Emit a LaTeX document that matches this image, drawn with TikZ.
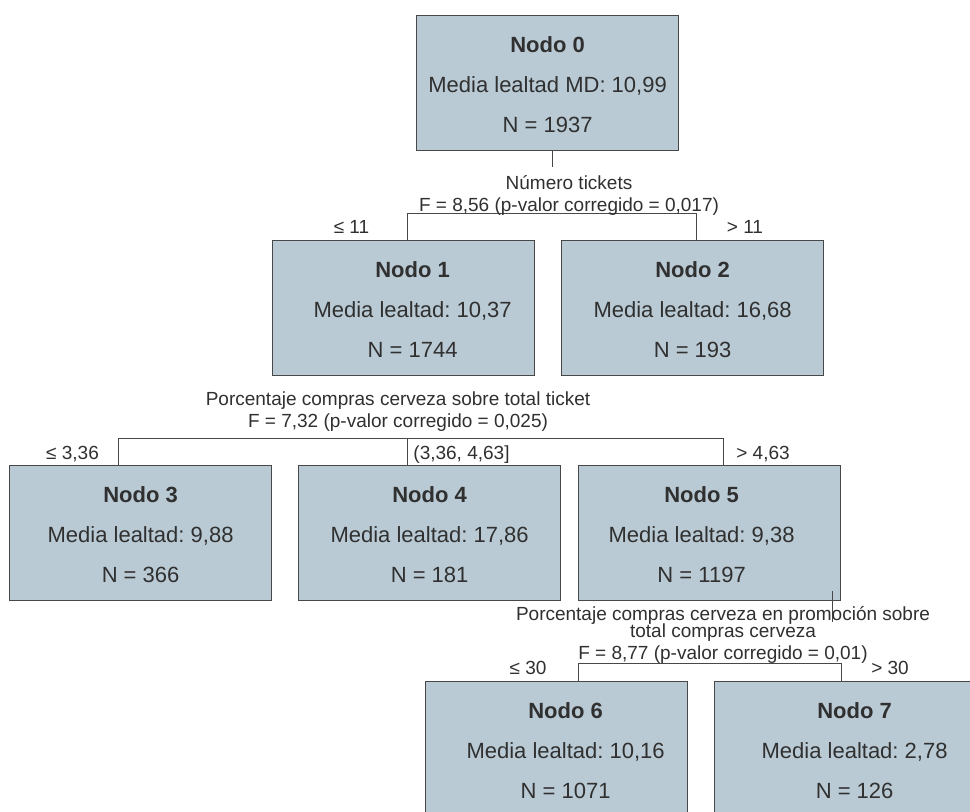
\documentclass[tikz,border=0pt]{standalone}
\usepackage{fontspec}
\setmainfont{Liberation Sans}
\usetikzlibrary{calc}
\definecolor{boxfill}{HTML}{B9CAD4}
\definecolor{boxline}{HTML}{484848}
\definecolor{txt}{HTML}{303030}
\frenchspacing
\begin{document}
\begin{tikzpicture}[x=0.75pt,y=-0.75pt,
  box/.style={draw=boxline, line width=0.9pt, fill=boxfill, minimum width=196.5pt, minimum height=101.25pt, anchor=north west, inner sep=0pt},
  ttl/.style={anchor=base, inner sep=0pt, text=txt, font=\fontsize{16.5}{19}\selectfont\bfseries},
  val/.style={anchor=base, inner sep=0pt, text=txt, font=\fontsize{16.5}{19}\selectfont},
  lab/.style={anchor=base, inner sep=0pt, text=txt, font=\fontsize{14.25}{16}\selectfont},
  conn/.style={draw=boxline, line width=0.75pt}]
\clip (0,0) rectangle (970,811);
\fill[white] (0,0) rectangle (970,811);

% boxes
\node[box] (n0) at (416,15) {};
\node[box] (n1) at (272,240) {};
\node[box] (n2) at (561,240) {};
\node[box] (n3) at (9,465) {};
\node[box] (n4) at (298,465) {};
\node[box] (n5) at (578,465) {};
\node[box] (n6) at (425,681) {};
\node[box] (n7) at (714,681) {};

% box texts
\node[ttl] (t0) at ($(n0.north)+(0,37)$) {Nodo 0};
\node[val] (m0) at ($(n0.north)+(0,77)$) {Media lealtad MD: 10,99};
\node[val] (c0) at ($(n0.north)+(0,117)$) {N = 1937};

\node[ttl] (t1) at ($(n1.north)+(9,37)$) {Nodo 1};
\node[val] (m1) at ($(n1.north)+(9,77)$) {Media lealtad: 10,37};
\node[val] (c1) at ($(n1.north)+(9,117)$) {N = 1744};

\node[ttl] (t2) at ($(n2.north)+(0,37)$) {Nodo 2};
\node[val] (m2) at ($(n2.north)+(0,77)$) {Media lealtad: 16,68};
\node[val] (c2) at ($(n2.north)+(0,117)$) {N = 193};

\node[ttl] (t3) at ($(n3.north)+(0,37)$) {Nodo 3};
\node[val] (m3) at ($(n3.north)+(0,77)$) {Media lealtad: 9,88};
\node[val] (c3) at ($(n3.north)+(0,117)$) {N = 366};

\node[ttl] (t4) at ($(n4.north)+(0,37)$) {Nodo 4};
\node[val] (m4) at ($(n4.north)+(0,77)$) {Media lealtad: 17,86};
\node[val] (c4) at ($(n4.north)+(0,117)$) {N = 181};

\node[ttl] (t5) at ($(n5.north)+(-8,37)$) {Nodo 5};
\node[val] (m5) at ($(n5.north)+(-8,77)$) {Media lealtad: 9,38};
\node[val] (c5) at ($(n5.north)+(-8,117)$) {N = 1197};

\node[ttl] (t6) at ($(n6.north)+(9,37)$) {Nodo 6};
\node[val] (m6) at ($(n6.north)+(9,77)$) {Media lealtad: 10,16};
\node[val] (c6) at ($(n6.north)+(9,117)$) {N = 1071};

\node[ttl] (t7) at ($(n7.north)+(9,37)$) {Nodo 7};
\node[val] (m7) at ($(n7.north)+(9,77)$) {Media lealtad: 2,78};
\node[val] (c7) at ($(n7.north)+(9,117)$) {N = 126};

% split 1
\coordinate (s0) at (552,167);
\coordinate (a1) at (407,213);
\coordinate (a2) at (696,213);
\draw[conn] (s0 |- n0.south) -- (s0);
\draw[conn] (a1 |- n1.north) -- (a1) -- (a2) -- (a2 |- n2.north);
\node[lab] (l0a) at (569,189) {Número tickets};
\node[lab] (l0b) at (569,211) {F = 8,56 (p-valor corregido = 0,017)};
\node[lab] (l1) at (351.5,233) {≤ 11};
\node[lab] (l2) at (745,233) {> 11};

% split 2
\coordinate (b3) at (118,438);
\coordinate (b4) at (407.7,438);
\coordinate (b5) at (723,438);
\draw[conn] (b3 |- n3.north) -- (b3) -- (b5) -- (b5 |- n5.north);
\draw[conn] (b4) -- (b4 |- n4.north);
\node[lab] (l1a) at (398,405) {Porcentaje compras cerveza sobre total ticket};
\node[lab] (l1b) at (398,427) {F = 7,32 (p-valor corregido = 0,025)};
\node[lab] (l3) at (72.5,459) {≤ 3,36};
\node[lab] (l4) at (461.5,459) {(3,36, 4,63]};
\node[lab] (l5) at (763,459) {> 4,63};

% split 3
\coordinate (s5a) at (832.5,591);
\coordinate (s5b) at (832.5,622);
\draw[conn] (s5a) -- (s5b);
\coordinate (d6) at (578,663);
\coordinate (d7) at (841,663);
\draw[conn] (d6 |- n6.north) -- (d6) -- (d7) -- (d7 |- n7.north);
\node[lab] (l5a) at (723,620) {Porcentaje compras cerveza en promoción sobre};
\node[lab] (l5b) at (723,637) {total compras cerveza};
\node[lab] (l5c) at (723,659) {F = 8,77 (p-valor corregido = 0,01)};
\node[lab] (l6) at (528,674) {≤ 30};
\node[lab] (l7) at (890,674) {> 30};
\end{tikzpicture}
\end{document}
